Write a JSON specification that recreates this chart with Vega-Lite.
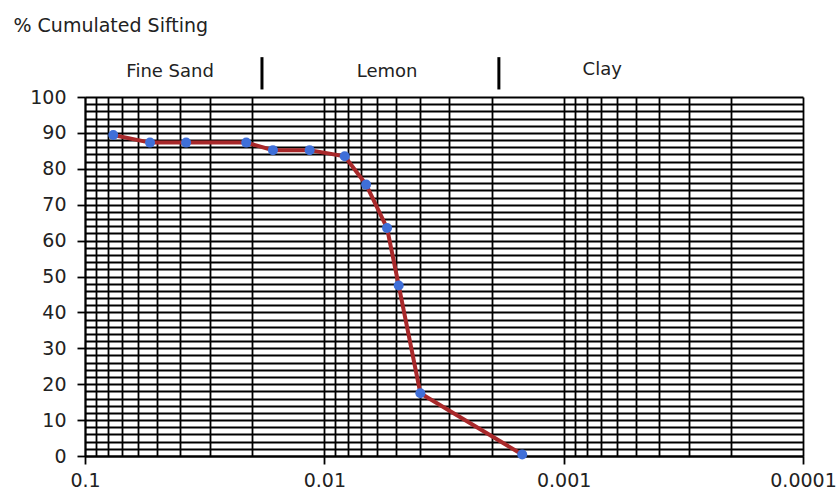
{
  "$schema": "https://vega.github.io/schema/vega-lite/v6.json",
  "width": 718,
  "height": 359,
  "autosize": "none",
  "padding": {"left": 85, "top": 97, "right": 35, "bottom": 37},
  "background": "white",
  "config": {"view": {"stroke": null}, "font": "DejaVu Sans"},
  "datasets": {
    "curve": [
      {"d": 0.0762, "p": 89.4},
      {"d": 0.0535, "p": 87.3},
      {"d": 0.0378, "p": 87.3},
      {"d": 0.0212, "p": 87.3},
      {"d": 0.0164, "p": 85.2},
      {"d": 0.01152, "p": 85.2},
      {"d": 0.00822, "p": 83.5},
      {"d": 0.00669, "p": 75.6},
      {"d": 0.00547, "p": 63.5},
      {"d": 0.00489, "p": 47.5},
      {"d": 0.00397, "p": 17.5},
      {"d": 0.00149, "p": 0.4}
    ],
    "zones": [
      {"label": "Fine Sand", "d": 0.0441, "p": 106.9},
      {"label": "Lemon", "d": 0.00547, "p": 106.9},
      {"label": "Clay", "d": 0.00069, "p": 107.5}
    ],
    "dividers": [
      {"d": 0.01822, "p": 102.1, "p2": 111.1},
      {"d": 0.001865, "p": 102.1, "p2": 111.1}
    ]
  },
  "encoding": {
    "x": {
      "field": "d",
      "type": "quantitative",
      "scale": {"type": "log", "domain": [0.0001, 0.1], "reverse": true, "nice": false},
      "axis": {
        "values": [0.0001, 0.0002, 0.0003, 0.0004, 0.0005, 0.0006, 0.0007, 0.0008, 0.0009, 0.001, 0.002, 0.003, 0.004, 0.005, 0.006, 0.007, 0.008, 0.009, 0.01, 0.02, 0.03, 0.04, 0.05, 0.06, 0.07, 0.08, 0.09, 0.1],
        "title": null,
        "labelExpr": "indexof([0.1, 0.01, 0.001, 0.0001], datum.value) >= 0 ? '' + datum.value : ''",
        "labelOverlap": false,
        "labelFlush": false,
        "labelFontSize": 19,
        "labelColor": "#222",
        "labelPadding": 7,
        "tickSize": 8,
        "tickColor": "#000",
        "tickWidth": 1.8,
        "tickOpacity": {"condition": {"test": "indexof([0.1, 0.01, 0.001, 0.0001], datum.value) >= 0", "value": 1}, "value": 0},
        "grid": true,
        "gridColor": "#000",
        "gridWidth": 1.8,
        "gridOpacity": 1,
        "domainColor": "#000",
        "domainWidth": 1.8
      }
    },
    "y": {
      "field": "p",
      "type": "quantitative",
      "scale": {"domain": [0, 100], "nice": false, "zero": false},
      "axis": {
        "values": [0, 2, 4, 6, 8, 10, 12, 14, 16, 18, 20, 22, 24, 26, 28, 30, 32, 34, 36, 38, 40, 42, 44, 46, 48, 50, 52, 54, 56, 58, 60, 62, 64, 66, 68, 70, 72, 74, 76, 78, 80, 82, 84, 86, 88, 90, 92, 94, 96, 98, 100],
        "title": "% Cumulated Sifting",
        "titleAngle": 0,
        "titleAlign": "left",
        "titleBaseline": "alphabetic",
        "titleX": -72,
        "titleY": -66,
        "titleFontSize": 19,
        "titleFontWeight": "normal",
        "titleColor": "#222",
        "labelExpr": "datum.value % 10 == 0 ? datum.label : ''",
        "labelOverlap": false,
        "labelFlush": false,
        "labelFontSize": 19,
        "labelColor": "#222",
        "labelPadding": 11,
        "tickSize": 8,
        "tickColor": "#000",
        "tickWidth": 1.8,
        "tickOpacity": {"condition": {"test": "datum.value % 10 == 0", "value": 1}, "value": 0},
        "grid": true,
        "gridColor": "#000",
        "gridWidth": 1.8,
        "gridOpacity": 1,
        "domainColor": "#000",
        "domainWidth": 1.8
      }
    }
  },
  "layer": [
    {
      "data": {"name": "curve"},
      "mark": {"type": "line", "color": "#a8282a", "strokeWidth": 4}
    },
    {
      "data": {"name": "curve"},
      "mark": {"type": "point", "filled": true, "color": "#3f6fd8", "size": 100, "opacity": 1}
    },
    {
      "data": {"name": "zones"},
      "mark": {"type": "text", "fontSize": 18, "color": "#222", "align": "center", "baseline": "middle"},
      "encoding": {"text": {"field": "label", "type": "nominal"}}
    },
    {
      "data": {"name": "dividers"},
      "mark": {"type": "rule", "color": "#000", "strokeWidth": 3},
      "encoding": {"y2": {"field": "p2"}}
    }
  ]
}
